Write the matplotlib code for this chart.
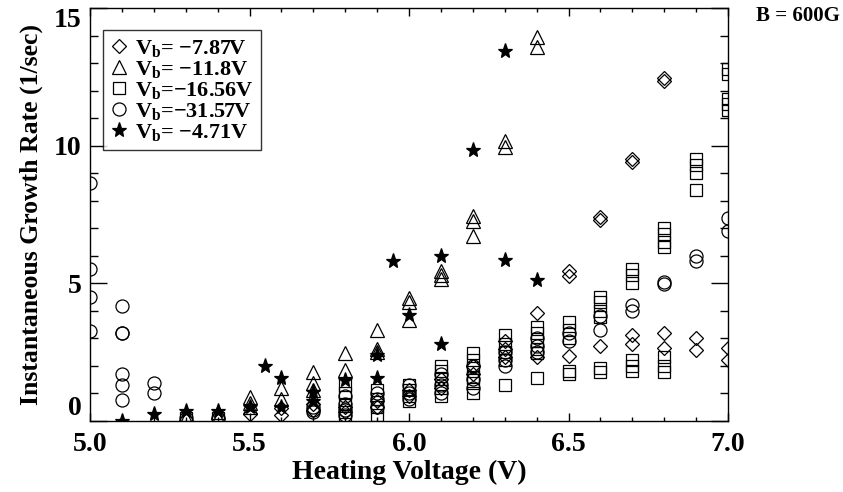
import numpy as np
import matplotlib
matplotlib.use("Agg")
import matplotlib.pyplot as plt
from matplotlib.ticker import MultipleLocator, FormatStrFormatter

plt.rcParams['font.family'] = 'Liberation Serif'
plt.rcParams['font.weight'] = 'bold'
plt.rcParams['mathtext.fontset'] = 'custom'
plt.rcParams['mathtext.rm'] = 'Liberation Serif:bold'
plt.rcParams['mathtext.bf'] = 'Liberation Serif:bold'
plt.rcParams['mathtext.it'] = 'Liberation Serif:bold'

# Vb = -7.87 V (diamonds)
d_volts = [5.5, 5.6, 5.7, 5.8, 5.9, 6.0, 6.1, 6.2, 6.3, 6.4, 6.5, 6.6, 6.7, 6.8, 6.9, 7.0]
d_rates = [[0.25], [0.45, 0.2], [0.6, 0.4], [0.5, 0.3], [0.7, 0.5], [1.1, 0.9],
           [1.5, 1.2], [2.0, 1.7], [2.9, 2.6, 2.3], [3.9, 2.3], [5.45, 5.25, 2.35],
           [7.4, 7.3, 2.7], [9.5, 9.4, 3.1, 2.8], [12.45, 12.35, 3.2, 2.65],
           [3.0, 2.55], [2.65, 2.2]]

# Vb = -11.8 V (triangles)
t_volts = [5.3, 5.4, 5.5, 5.6, 5.7, 5.8, 5.9, 6.0, 6.1, 6.2, 6.3, 6.4]
t_rates = [[0.25, 0.1], [0.3, 0.1], [0.85, 0.65, 0.5], [1.2, 0.8],
           [1.75, 1.35, 1.1], [2.45, 1.85], [3.3, 2.6, 2.5], [4.45, 4.3, 3.65],
           [5.45, 5.3, 5.15], [7.45, 7.25, 6.7], [10.15, 9.95], [13.95, 13.6]]

# Vb = -16.56 V (squares)
s_volts = [5.3, 5.4, 5.8, 5.9, 6.0, 6.1, 6.2, 6.3, 6.4, 6.5, 6.6, 6.7, 6.8, 6.9, 7.0]
s_rates = [[0.1], [0.1], [1.3, 1.0, 0.6, 0.3, 0.1], [1.1, 0.8, 0.5, 0.2],
           [1.3, 1.1, 0.9, 0.7], [2.0, 1.8, 1.5, 1.2, 0.9],
           [2.45, 2.2, 1.9, 1.6, 1.36, 1.0], [3.1, 2.8, 2.5, 2.2, 1.3],
           [3.4, 3.2, 2.9, 2.6, 2.45, 1.55], [3.6, 3.3, 3.0, 1.8, 1.7],
           [4.5, 4.3, 4.0, 3.76, 1.9, 1.77], [5.5, 5.3, 5.0, 2.2, 2.0, 1.8],
           [7.0, 6.8, 6.5, 6.3, 2.3, 2.0, 1.75], [9.5, 9.3, 9.0, 8.4],
           [12.8, 12.6, 11.7, 11.5, 11.3]]

# Vb = -31.57 V (circles)
c_volts = [5.0, 5.1, 5.2, 5.3, 5.4, 5.7, 5.8, 5.9, 6.0, 6.1, 6.2, 6.3, 6.4,
           6.5, 6.6, 6.7, 6.8, 6.9, 7.0]
c_rates = [[8.65, 5.5, 4.5, 3.25], [4.15, 3.2, 3.2, 1.7, 1.3, 0.75], [1.35, 1.0],
           [0.1], [0.1], [0.5, 0.4, 0.3], [0.9, 0.6, 0.4, 0.2], [1.0, 0.8, 0.5],
           [1.3, 1.0, 0.8], [1.7, 1.3, 1.0], [2.0, 1.5, 1.2], [2.5, 2.2, 2.0],
           [3.0, 2.7, 2.5], [3.2, 2.9], [3.8, 3.3], [4.2, 4.0], [5.05, 4.95],
           [6.0, 5.8], [7.35, 6.9]]

# Vb = -4.71 V (stars)
k_volts = [5.1, 5.2, 5.3, 5.4, 5.5, 5.55, 5.6, 5.7, 5.8, 5.9, 5.95, 6.0, 6.1,
           6.2, 6.3, 6.4]
k_rates = [[0.0], [0.25], [0.35], [0.35], [0.5], [2.0], [1.55, 0.5], [1.05, 0.7],
           [1.47], [2.4, 1.55], [5.8], [3.84], [6.0, 2.8], [9.85], [13.45, 5.85],
           [5.1]]


def expand(volts, rates):
    xs, ys = [], []
    for v, r in zip(volts, rates):
        for val in r:
            xs.append(v)
            ys.append(val)
    return xs, ys


fig = plt.figure(figsize=(8.43, 4.92), dpi=100)
ax = fig.add_axes([0.1068, 0.1453, 0.7568, 0.8384])

series = [
    (d_volts, d_rates, 'D', 7.4, 'none', r'V$_{b}$= $-$7.87V'),
    (t_volts, t_rates, '^', 9.5, 'none', r'V$_{b}$= $-$11.8V'),
    (s_volts, s_rates, 's', 8.8, 'none', r'V$_{b}$=$-$16.56V'),
    (c_volts, c_rates, 'o', 9.4, 'none', r'V$_{b}$=$-$31.57V'),
    (k_volts, k_rates, '*', 11, 'black', r'V$_{b}$= $-$4.71V'),
]
for volts, rates, mk, ms, fc, lab in series:
    xs, ys = expand(volts, rates)
    ax.plot(xs, ys, linestyle='none', marker=mk, markersize=ms,
            markerfacecolor=fc, markeredgecolor='black', markeredgewidth=0.9,
            label=lab)

ax.set_xlim(5.0, 7.0)
ax.set_ylim(0, 15)
ax.xaxis.set_major_locator(MultipleLocator(0.5))
ax.xaxis.set_minor_locator(MultipleLocator(0.1))
ax.yaxis.set_major_locator(MultipleLocator(5))
ax.yaxis.set_minor_locator(MultipleLocator(1))
ax.xaxis.set_major_formatter(FormatStrFormatter('%.1f'))
ax.tick_params(axis='both', which='both', direction='in', top=True, right=True,
               labelsize=20, width=1)
ax.tick_params(axis='x', which='major', length=6, pad=8)
ax.tick_params(axis='x', which='minor', length=3)
ax.tick_params(axis='y', which='major', length=12, pad=6)
ax.tick_params(axis='y', which='minor', length=6)
for sp in ax.spines.values():
    sp.set_linewidth(1)

# keep the end labels of the y axis inside the frame, as in the original
fig.canvas.draw()
ylabs = ax.get_yticklabels()
for lab in ylabs:
    if lab.get_text() == '0':
        lab.set_verticalalignment('bottom')
    elif lab.get_text() == '15':
        lab.set_verticalalignment('top')

ax.set_xlabel('Heating Voltage (V)', fontsize=20, fontweight='bold', labelpad=2)
ax.set_ylabel('Instantaneous Growth Rate (1/sec)', fontsize=18.5,
              fontweight='bold', labelpad=8)

leg = ax.legend(loc='upper left', bbox_to_anchor=(0.02, 0.947), fontsize=16,
                frameon=True, fancybox=False, edgecolor='black',
                handlelength=0.8, handletextpad=0.3, labelspacing=0.0,
                borderpad=0.35, borderaxespad=0)
leg.get_frame().set_linewidth(1)

fig.text(0.947, 0.968, 'B = 600G', fontsize=15, fontweight='bold',
         ha='center', va='center')

fig.savefig('out.png', dpi=100)
